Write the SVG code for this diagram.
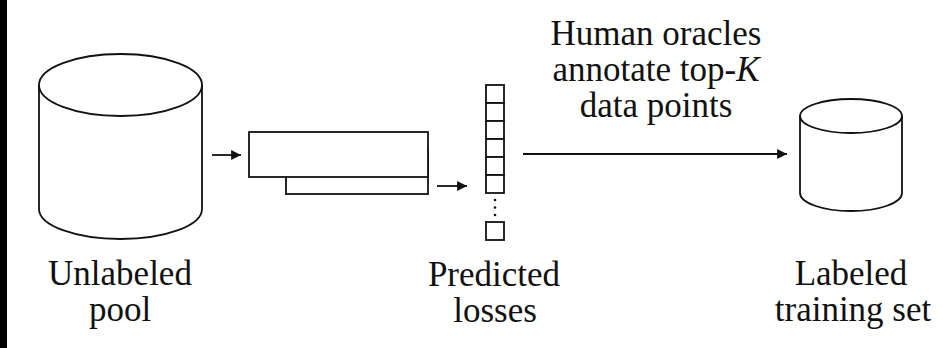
<svg xmlns="http://www.w3.org/2000/svg" width="943" height="348" viewBox="0 0 943 348">
  <style>
    .shape { fill: #fff; stroke: #111; stroke-width: 1.8; }
    .edge { fill: none; stroke: #111; stroke-width: 1.8; }
    .label { font-family: "Liberation Serif", "Times New Roman", serif; font-size: 35px; fill: #111; text-anchor: middle; }
  </style>
  <defs>
    <marker id="head" viewBox="0 0 10 10" refX="10" refY="5" markerWidth="7.5" markerHeight="5.5" markerUnits="strokeWidth" orient="auto">
      <path d="M0,0 L10,5 L0,10 z" fill="#111"/>
    </marker>
  </defs>

  <rect x="0" y="0" width="943" height="348" fill="#fff"/>
  <rect x="0" y="0" width="7" height="348" fill="#000"/>

  <!-- unlabeled pool cylinder -->
  <g id="pool">
    <path class="shape" d="M39,85 L39,209 A81.5,30 0 0 0 202,209 L202,85"/>
    <ellipse class="shape" cx="120.5" cy="85" rx="81.5" ry="31"/>
    <text class="label" x="120" y="285">Unlabeled</text>
    <text class="label" x="120" y="321">pool</text>
  </g>

  <!-- model: two stacked layers -->
  <g id="model">
    <rect class="shape" x="286" y="150" width="142" height="44"/>
    <rect class="shape" x="249" y="132" width="179" height="45"/>
  </g>

  <!-- predicted loss vector -->
  <g id="losses">
    <rect class="shape" x="486" y="85" width="18" height="18"/>
    <rect class="shape" x="486" y="103" width="18" height="18"/>
    <rect class="shape" x="486" y="121" width="18" height="18"/>
    <rect class="shape" x="486" y="139" width="18" height="18"/>
    <rect class="shape" x="486" y="157" width="18" height="18"/>
    <rect class="shape" x="486" y="175" width="18" height="18"/>
    <circle cx="495" cy="200" r="1.3" fill="#111"/>
    <circle cx="495" cy="207.5" r="1.3" fill="#111"/>
    <circle cx="495" cy="215" r="1.3" fill="#111"/>
    <rect class="shape" x="486" y="222" width="18" height="18"/>
    <text class="label" x="494" y="286">Predicted</text>
    <text class="label" x="495" y="322">losses</text>
  </g>

  <!-- labeled training set cylinder -->
  <g id="labeled">
    <path class="shape" d="M800,116 L800,193 A51,18 0 0 0 902,193 L902,116"/>
    <ellipse class="shape" cx="851" cy="116" rx="51" ry="17"/>
    <text class="label" x="851" y="285">Labeled</text>
    <text class="label" x="853" y="321">training set</text>
  </g>

  <!-- connectors -->
  <g id="connectors">
    <line class="edge" x1="212" y1="155" x2="241" y2="155" marker-end="url(#head)"/>
    <line class="edge" x1="437" y1="186" x2="467" y2="186" marker-end="url(#head)"/>
    <line class="edge" x1="523" y1="154" x2="787" y2="154" marker-end="url(#head)"/>
    <text class="label" x="656" y="45">Human oracles</text>
    <text class="label" x="656" y="81">annotate top-<tspan font-style="italic">K</tspan></text>
    <text class="label" x="656" y="117">data points</text>
  </g>
</svg>
